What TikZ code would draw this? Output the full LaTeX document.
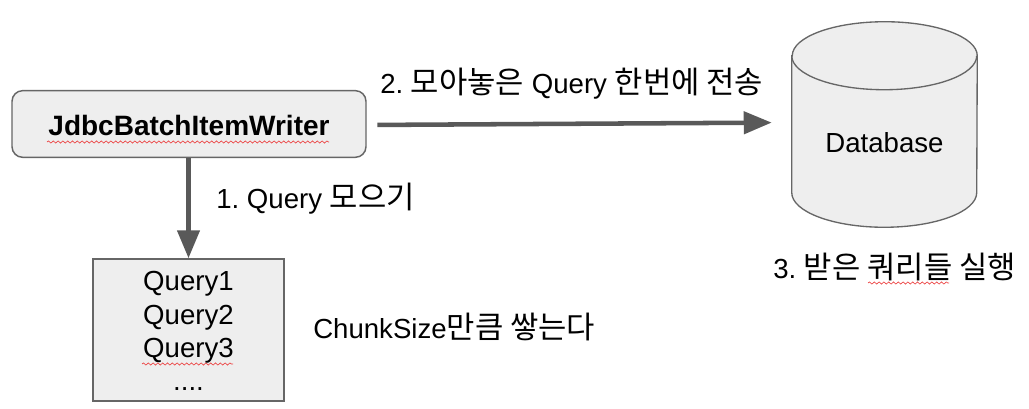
\documentclass[tikz,border=0pt]{standalone}
\usepackage{fontspec}
\setmainfont{Liberation Sans}
\newfontfamily\kr[Scale=1.115]{Noto Sans CJK KR}
\usetikzlibrary{arrows.meta,decorations.pathmorphing}
\definecolor{boxgray}{RGB}{238,238,238}
\definecolor{linegray}{RGB}{102,102,102}
\definecolor{arrowgray}{RGB}{89,89,89}
\definecolor{spellred}{RGB}{236,70,70}
\tikzset{
    % Box styles
    writerbox/.style={
        rectangle, draw=linegray, line width=1.1pt, fill=boxgray,
        minimum width=265.5pt, minimum height=50pt,
        rounded corners=8pt
    },
    querybox/.style={
        rectangle, draw=linegray, line width=1.1pt, fill=boxgray,
        minimum width=143.25pt, minimum height=106.5pt
    },
    dbframe/.style={
        rectangle, inner sep=0pt,
        minimum height=153.75pt, minimum width=138.75pt
    },
    dbbody/.style={draw=linegray, line width=1pt, fill=boxgray},
    dbrim/.style={draw=linegray, line width=1pt},
    % Text and line styles
    caption/.style={anchor=base west, inner sep=0pt, font=\fontsize{20.7pt}{24pt}\selectfont\frenchspacing},
    centered/.style={caption, anchor=base},
    flow/.style={
        draw=arrowgray, line width=3.4pt,
        -{Triangle[length=21pt,width=16.5pt]}
    },
    spell/.style={
        draw=spellred, line width=.5pt, decorate,
        decoration={snake, amplitude=.8pt, segment length=3.6pt}
    }
}
\begin{document}
\begin{tikzpicture}[x=.75pt,y=-.75pt]
\useasboundingbox (0,0) rectangle (1029,409);

% Shapes
\node[writerbox] (writer) at (189,124) {};
\node[querybox] (queue) at (188.5,330) {};
\node[dbframe] (db) at (884.5,124.5) {};

% Database cylinder
\draw[dbbody] ([yshift=-25.5pt]db.north west) -- ([yshift=26pt]db.south west)
    arc[start angle=180, end angle=360, x radius=69.375pt, y radius=26pt]
    -- ([yshift=-25.5pt]db.north east)
    arc[start angle=0, end angle=180, x radius=69.375pt, y radius=25.5pt] -- cycle;
\draw[dbrim] ([yshift=-25.5pt]db.north west)
    arc[start angle=180, end angle=360, x radius=69.375pt, y radius=25.5pt];

% Connectors
\draw[flow, shorten <=8pt, shorten >=15pt] ([yshift=-.75pt]writer.east) -- ([yshift=1.5pt]db.west);
\draw[flow] (writer.south -| queue.north) -- (queue.north);

% Box texts
\node[centered, font=\fontsize{21pt}{24pt}\selectfont\bfseries] (writertext) at (189,136) {JdbcBatchItemWriter};
\node[centered] (query1) at (188.5,291) {Query1};
\node[centered] (query2) at (188.5,325) {Query2};
\node[centered] (query3) at (188.5,358) {Query3};
\node[centered] (dots) at (188.5,391) {....};
\node[centered] (dbtext) at (884.5,153) {Database};

% Step labels
\node[caption] (step1) at (216,209) {1. Query {\kr 모으기}};
\node[caption] (step2) at (380,93.5) {2. {\kr 모아놓은} Query {\kr 한번에 전송}};
\node[caption] (step3) at (773,278.5) {3. {\kr 받은 쿼리들 실행}};
\node[caption] (chunk) at (313,339) {ChunkSize{\kr 만큼 쌓는다}};

% Spell check marks
\draw[spell] (47,142) -- (329,142);
\draw[spell] (142,364) -- (233,364);
\draw[spell] (868,283) -- (949,283);

\end{tikzpicture}
\end{document}
